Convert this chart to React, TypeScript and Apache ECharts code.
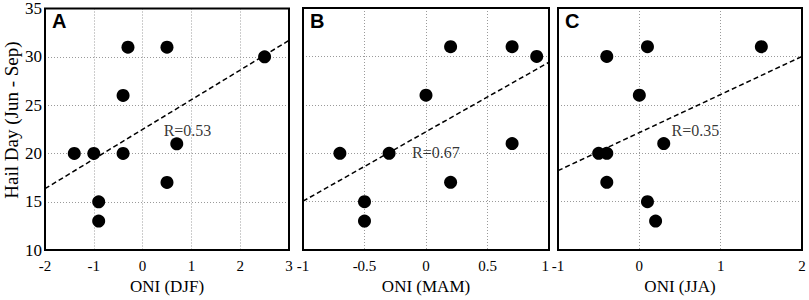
import React, { useEffect, useRef } from "react";
import * as echarts from "echarts";

// ---- data ----
const panelLetters = ["A", "B", "C"];
const xTitles = ["ONI (DJF)", "ONI (MAM)", "ONI (JJA)"];
const yTitle = "Hail Day (Jun - Sep)";
const yMin = 10;
const yMax = 35;
const yStep = 5;
const xMins = [-2, -1, -1];
const xMaxs = [3, 1, 2];
const xSteps = [1, 0.5, 1];

const oniDJF = [-1.4, -1.0, -0.9, -0.9, -0.4, -0.4, -0.3, 0.5, 0.5, 0.7, 2.5];
const hailDJF = [20, 20, 15, 13, 26, 20, 31, 31, 17, 21, 30];
const oniMAM = [-0.7, -0.5, -0.5, -0.3, 0.0, 0.2, 0.2, 0.7, 0.7, 0.9];
const hailMAM = [20, 15, 13, 20, 26, 31, 17, 31, 21, 30];
const oniJJA = [-0.5, -0.4, -0.4, -0.4, 0.0, 0.1, 0.1, 0.2, 0.3, 1.5];
const hailJJA = [20, 20, 30, 17, 26, 31, 15, 13, 21, 31];

const fitDJF = [[-2, 16.35], [3, 31.7]];
const fitMAM = [[-1, 15.05], [1, 29.4]];
const fitJJA = [[-1, 18.2], [2, 30.0]];

const rLabels = ["R=0.53", "R=0.67", "R=0.35"];
const rPositions = [[0.92, 22.4], [0.08, 20.1], [0.69, 22.4]];

const panelsX = [oniDJF, oniMAM, oniJJA];
const panelsY = [hailDJF, hailMAM, hailJJA];
const fits = [fitDJF, fitMAM, fitJJA];

// ---- layout ----
const gridLefts = [45, 303, 558];
const gridWidths = [244, 246, 244];
const gridTop = 8;
const gridHeight = 244;
const serif = "'Liberation Serif', 'Times New Roman', serif";

export default function App() {
  const ref = useRef<HTMLDivElement>(null);
  useEffect(() => {
    if (!ref.current) return;
    const chart = echarts.init(ref.current, undefined, { renderer: "svg" });
    const grids: any[] = [];
    const xAxes: any[] = [];
    const yAxes: any[] = [];
    const series: any[] = [];
    const graphics: any[] = [];
    for (let i = 0; i < 3; i++) {
      grids.push({
        left: gridLefts[i],
        top: gridTop,
        width: gridWidths[i],
        height: gridHeight,
        show: true,
        borderColor: "#000",
        borderWidth: 2,
        backgroundColor: "transparent",
        z: 10,
      });
      xAxes.push({
        type: "value",
        gridIndex: i,
        min: xMins[i],
        max: xMaxs[i],
        interval: xSteps[i],
        name: xTitles[i],
        nameLocation: "middle",
        nameGap: 27,
        nameTextStyle: { color: "#000", fontFamily: serif, fontSize: 17 },
        axisLine: { show: false },
        axisTick: { show: false },
        axisLabel: {
          color: "#000",
          fontFamily: serif,
          fontSize: 15,
          margin: 8,
          alignMaxLabel: i === 1 ? "right" : undefined,
          formatter: (v: number) => String(v),
        },
        splitLine: { show: true, lineStyle: { color: "#9a9a9a", type: [1, 2], width: 1 } },
      });
      yAxes.push({
        type: "value",
        gridIndex: i,
        min: yMin,
        max: yMax,
        interval: yStep,
        axisLine: { show: false },
        axisTick: { show: false },
        axisLabel: { show: i === 0, color: "#000", fontFamily: serif, fontSize: 17, margin: 3 },
        splitLine: { show: true, lineStyle: { color: "#9a9a9a", type: [1, 2], width: 1 } },
      });
      series.push({
        type: "line",
        xAxisIndex: i,
        yAxisIndex: i,
        data: fits[i],
        symbol: "none",
        lineStyle: { color: "#000", width: 1.5, type: [5, 3] },
        z: 3,
      });
      series.push({
        type: "scatter",
        xAxisIndex: i,
        yAxisIndex: i,
        data: panelsX[i].map((x, k) => [x, panelsY[i][k]]),
        symbol: "circle",
        symbolSize: 13,
        itemStyle: { color: "#000", opacity: 1 },
        z: 4,
      });
      series.push({
        type: "scatter",
        xAxisIndex: i,
        yAxisIndex: i,
        data: [rPositions[i]],
        symbolSize: 1,
        itemStyle: { color: "rgba(0,0,0,0)" },
        label: {
          show: true,
          position: "inside",
          formatter: rLabels[i],
          color: "#000",
          fontFamily: serif,
          fontSize: 16,
        },
        z: 5,
      });
      graphics.push({
        type: "text",
        left: gridLefts[i] + 7,
        top: gridTop + 3,
        style: {
          text: panelLetters[i],
          font: "bold 20px 'Liberation Sans', Arial, sans-serif",
          fill: "#000",
        },
        z: 20,
      });
    }
    graphics.push({
      type: "text",
      x: 11,
      y: 120,
      rotation: Math.PI / 2,
      style: {
        text: yTitle,
        font: `normal 19px ${serif}`,
        fill: "#000",
        align: "center",
        verticalAlign: "middle",
      },
      z: 20,
    });
    chart.setOption({
      animation: false,
      backgroundColor: "#fff",
      grid: grids,
      xAxis: xAxes,
      yAxis: yAxes,
      series,
      graphic: graphics,
    });
    return () => chart.dispose();
  }, []);
  return (
    <div style={{ position: "fixed", left: 0, top: 0, width: 809, height: 300, background: "#fff" }}>
      <div ref={ref} style={{ width: 809, height: 300 }} />
    </div>
  );
}
